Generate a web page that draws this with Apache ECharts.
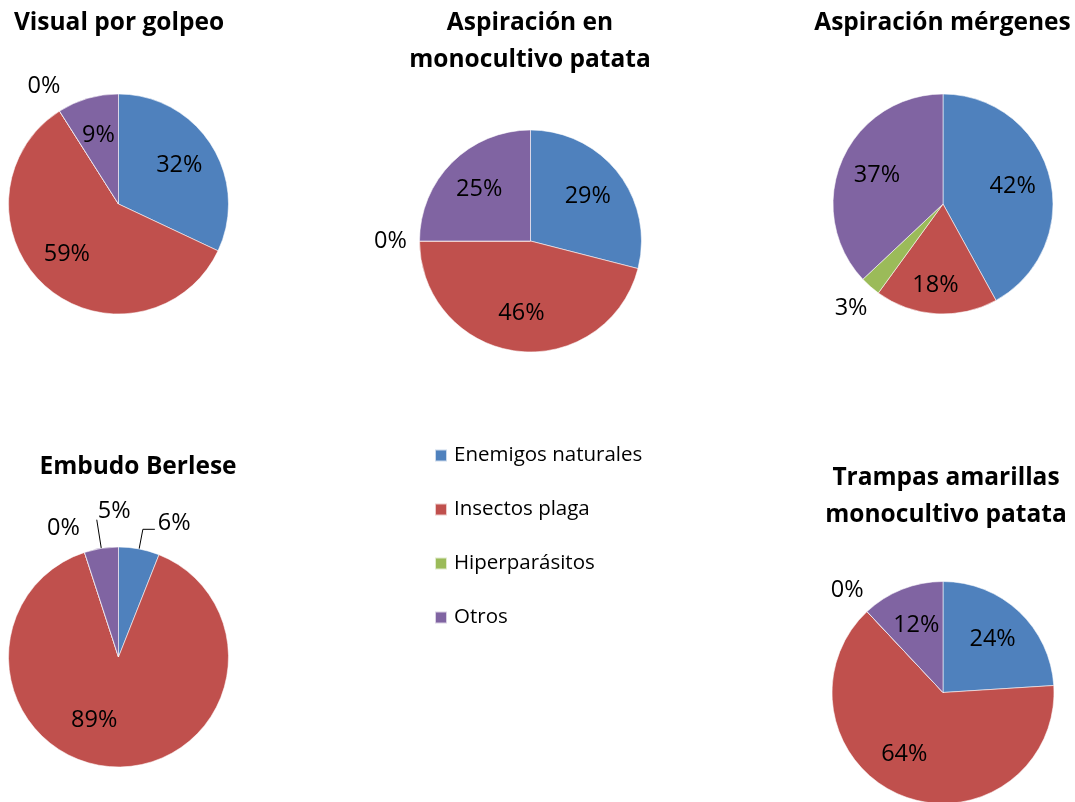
<!DOCTYPE html>
<html><head><meta charset="utf-8">
<script src="https://cdn.jsdelivr.net/npm/echarts@6/dist/echarts.min.js"></script>
<style>html,body{margin:0;padding:0;background:#fff}#c{width:1075px;height:802px}</style>
</head><body><div id="c"></div>
<script>
// ---- data ----
const categories = ['Enemigos naturales', 'Insectos plaga', 'Hiperparásitos', 'Otros'];
const chartTitles = ['Visual por golpeo', 'Aspiración en\nmonocultivo patata', 'Aspiración mérgenes', 'Embudo Berlese', 'Trampas amarillas\nmonocultivo patata'];
const visualPorGolpeo = [32, 59, 0, 9];
const aspiracionMonocultivo = [29, 46, 0, 25];
const aspiracionMargenes = [42, 18, 3, 37];
const embudoBerlese = [6, 89, 0, 5];
const trampasAmarillas = [24, 64, 0, 12];
const datasets = [visualPorGolpeo, aspiracionMonocultivo, aspiracionMargenes, embudoBerlese, trampasAmarillas];

// ---- styling / layout ----
const colors = ['#4F81BD', '#C0504D', '#9BBB59', '#8064A2'];
const FONT = '"Open Sans", "DejaVu Sans", sans-serif';
const pies = [
  { center: [118.5, 204], r: 110, title: [119, 5], inner: [0, 1, 3], outer: [2], leader: [], nudge: { 1: [-4, -4] } },
  { center: [530.5, 241], r: 111, title: [530, 5], inner: [0, 1, 3], outer: [2], leader: [], nudge: {} },
  { center: [943, 204], r: 110, title: [942.5, 5], inner: [0, 1, 3], outer: [2], leader: [], nudge: { 1: [-3, 9] } },
  { center: [118.5, 657], r: 110, title: [138, 449], inner: [1], outer: [2], leader: [0, 3], nudge: { 1: [-22, -9] } },
  { center: [943, 692.5], r: 111, title: [946, 460], inner: [0, 1, 3], outer: [2], leader: [], nudge: { 1: [-12, -6] } }
];
const labelFont = { color: '#000', fontFamily: FONT, fontSize: 23.5 };
const fmt = p => p.value + '%';

const mainSeries = [], labelSeries = [];
pies.forEach((p, i) => {
  const vals = datasets[i];
  mainSeries.push({
    type: 'pie', center: p.center, radius: [0, p.r], startAngle: 90, clockwise: true,
    avoidLabelOverlap: false, silent: true, animation: false,
    itemStyle: { borderColor: 'rgba(255,255,255,0.7)', borderWidth: 0.8 },
    label: { show: false, position: 'outside', formatter: fmt, distanceToLabelLine: 3, ...labelFont },
    labelLine: { show: true, length: 20, length2: 12, smooth: false, lineStyle: { color: '#000', width: 1 } },
    labelLayout: function (params) {
      if (i === 3 && params.dataIndex === 3) {
        return { dx: params.labelRect.width + 4, dy: -8, labelLinePoints: params.labelLinePoints };
      }
      if (i === 3 && params.dataIndex === 0) {
        return { dy: -6, labelLinePoints: params.labelLinePoints };
      }
      return {};
    },
    data: vals.map((v, k) => {
      const isLeader = p.leader.indexOf(k) >= 0;
      const d = { name: categories[k], value: v, itemStyle: { color: colors[k] } };
      if (isLeader) {
        d.label = { show: true };
        d.labelLine = k === 3 ? { show: true, length: 29, length2: 0 } : { show: true, length: 20, length2: 12 };
      } else {
        d.labelLine = { show: false };
      }
      return d;
    })
  });
  // inner label ring (transparent)
  labelSeries.push({
    type: 'pie', center: p.center, radius: [28, p.r], startAngle: 90, clockwise: true,
    avoidLabelOverlap: false, silent: true, animation: false,
    itemStyle: { color: 'rgba(0,0,0,0)' },
    label: { show: false, position: 'inside', formatter: fmt, ...labelFont },
    labelLine: { show: false },
    labelLayout: function (params) {
      const n = p.nudge[params.dataIndex];
      return n ? { dx: n[0], dy: n[1] } : {};
    },
    data: vals.map((v, k) => ({ name: categories[k], value: v, label: { show: p.inner.indexOf(k) >= 0 } }))
  });
  // outer label ring (transparent)
  labelSeries.push({
    type: 'pie', center: p.center, radius: [p.r + 16, p.r + 36], startAngle: 90, clockwise: true,
    avoidLabelOverlap: false, silent: true, animation: false,
    itemStyle: { color: 'rgba(0,0,0,0)' },
    label: { show: false, position: 'inside', formatter: fmt, ...labelFont },
    labelLine: { show: false },
    labelLayout: i === 3 ? function () { return { dx: -12, dy: 4 }; } : undefined,
    data: vals.map((v, k) => ({ name: categories[k], value: v, label: { show: p.outer.indexOf(k) >= 0 } }))
  });
});

const titles = pies.map((p, i) => ({
  text: chartTitles[i], left: p.title[0], top: p.title[1], textAlign: 'center', padding: 0,
  textStyle: { color: '#000', fontFamily: FONT, fontWeight: 'bold', fontSize: 24.5, lineHeight: 37 }
}));

const chart = echarts.init(document.getElementById('c'), null, { renderer: 'canvas' });
chart.setOption({
  backgroundColor: '#fff',
  animation: false,
  title: titles,
  legend: {
    orient: 'vertical', left: 434, top: 445, padding: 0, itemGap: 33, icon: 'rect', itemWidth: 12, itemHeight: 12,
    selectedMode: false,
    textStyle: { color: '#000', fontFamily: FONT, fontSize: 20.5, padding: [0, 0, 0, 2] },
    data: categories.map((c, k) => ({ name: c, itemStyle: { color: colors[k] } }))
  },
  series: mainSeries.concat(labelSeries)
});
</script></body></html>
